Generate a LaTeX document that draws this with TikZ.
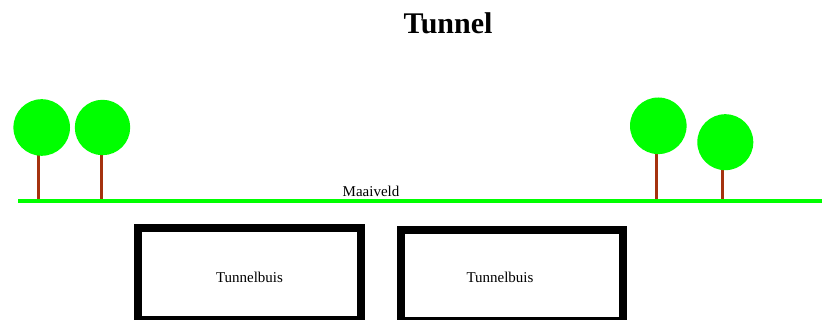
\documentclass[tikz,border=0pt]{standalone}
\usepackage{fontspec}
\setmainfont{Liberation Serif}
\definecolor{grass}{RGB}{0,255,0}
\definecolor{bark}{RGB}{165,50,15}

\begin{document}
\begin{tikzpicture}[x=1pt,y=1pt]
\useasboundingbox (0,0) rectangle (822,320);
% title
\node (title) [anchor=base] at (448,286) {\fontsize{30}{30}\selectfont\bfseries Tunnel};
% trees: trunk x / crown x / crown y / radius
\foreach \tx/\cx/\cy/\r in {38/41.7/192.5/28.3, 101.7/102.5/192.5/27.7,
  656/658.3/194.2/28.3, 722.3/725.3/177.8/28}
{
  \draw [bark, line width=3] (\tx,119) -- (\tx,\cy);
  \fill [grass] (\cx,\cy) circle (\r);
}
% ground level
\draw [grass, line width=3.5] (18,119) -- (822,119);
\node (maaiveld) [anchor=base] at (371,123) {\fontsize{15}{15}\selectfont Maaiveld};
% tunnel tubes
\draw [line width=8] (138,92) rectangle (361,0);
\draw [line width=8] (401,90) rectangle (623,-1);
\node (buis1) [anchor=base] at (249.5,37) {\fontsize{15}{15}\selectfont Tunnelbuis};
\node (buis2) [anchor=base] at (500,37) {\fontsize{15}{15}\selectfont Tunnelbuis};
\end{tikzpicture}
\end{document}
